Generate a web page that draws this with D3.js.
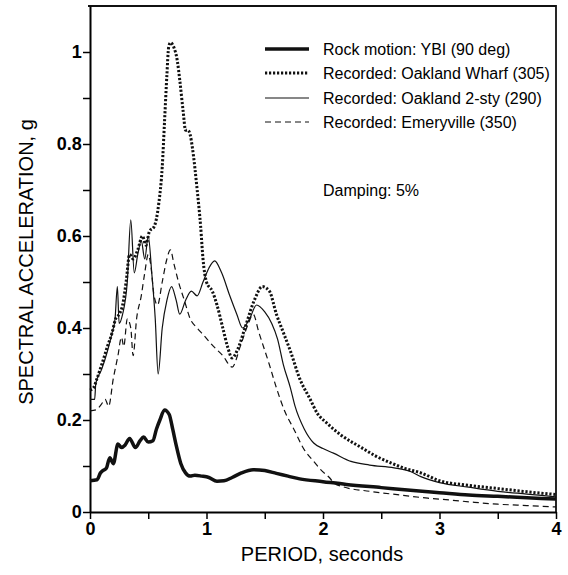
<!DOCTYPE html>
<html>
<head>
<meta charset="utf-8">
<script src="https://cdn.jsdelivr.net/npm/d3@7"></script>
<style>
  body { margin: 0; background: #fff; }
  svg { font-family: "Liberation Sans", Arial, sans-serif; }
</style>
</head>
<body>
<div id="chart"></div>
<script>
// Spectral acceleration (g) vs period (s)
const rock = [[0,0.068],[0.06,0.07],[0.09,0.085],[0.11,0.09],[0.14,0.095],[0.17,0.118],[0.2,0.105],[0.24,0.148],[0.27,0.14],[0.3,0.145],[0.34,0.16],[0.39,0.14],[0.43,0.155],[0.46,0.163],[0.5,0.152],[0.54,0.155],[0.57,0.18],[0.6,0.2],[0.64,0.222],[0.68,0.212],[0.71,0.18],[0.74,0.145],[0.78,0.105],[0.82,0.085],[0.86,0.078],[0.9,0.08],[0.96,0.078],[1.02,0.075],[1.09,0.067],[1.15,0.068],[1.22,0.075],[1.3,0.085],[1.4,0.092],[1.5,0.09],[1.6,0.084],[1.7,0.078],[1.8,0.072],[2.0,0.066],[2.2,0.06],[2.5,0.053],[2.8,0.046],[3.0,0.042],[3.25,0.037],[3.5,0.034],[3.75,0.031],[4.0,0.028]];

const wharf = [[0,0.265],[0.03,0.27],[0.06,0.29],[0.1,0.32],[0.15,0.36],[0.19,0.39],[0.22,0.42],[0.25,0.43],[0.28,0.45],[0.31,0.5],[0.34,0.56],[0.37,0.55],[0.41,0.57],[0.45,0.6],[0.48,0.58],[0.51,0.61],[0.55,0.62],[0.59,0.67],[0.62,0.75],[0.64,0.85],[0.66,0.95],[0.675,1.01],[0.69,1.02],[0.72,1.01],[0.75,0.98],[0.77,0.94],[0.8,0.87],[0.82,0.83],[0.84,0.83],[0.86,0.82],[0.88,0.79],[0.92,0.7],[0.95,0.62],[0.97,0.55],[1.0,0.5],[1.05,0.48],[1.09,0.45],[1.14,0.4],[1.18,0.36],[1.22,0.335],[1.27,0.355],[1.33,0.4],[1.41,0.46],[1.48,0.49],[1.54,0.48],[1.6,0.43],[1.66,0.39],[1.72,0.35],[1.8,0.29],[1.89,0.245],[1.95,0.215],[2.03,0.194],[2.15,0.168],[2.33,0.14],[2.45,0.122],[2.58,0.107],[2.7,0.095],[2.84,0.085],[3.0,0.068],[3.25,0.058],[3.5,0.051],[3.75,0.044],[4.0,0.038]];

const twoSty = [[0,0.245],[0.04,0.245],[0.05,0.28],[0.1,0.31],[0.15,0.35],[0.19,0.39],[0.215,0.42],[0.235,0.49],[0.25,0.41],[0.28,0.43],[0.32,0.5],[0.35,0.635],[0.38,0.52],[0.41,0.56],[0.44,0.59],[0.47,0.55],[0.5,0.6],[0.53,0.52],[0.56,0.42],[0.585,0.3],[0.62,0.4],[0.66,0.46],[0.7,0.49],[0.74,0.46],[0.77,0.43],[0.82,0.46],[0.87,0.48],[0.92,0.47],[0.97,0.5],[1.02,0.53],[1.07,0.546],[1.13,0.52],[1.2,0.47],[1.26,0.43],[1.31,0.4],[1.37,0.42],[1.43,0.45],[1.5,0.435],[1.56,0.41],[1.61,0.376],[1.66,0.32],[1.72,0.27],[1.76,0.23],[1.84,0.18],[1.92,0.15],[2.0,0.138],[2.09,0.128],[2.24,0.11],[2.4,0.102],[2.61,0.096],[2.75,0.088],[2.84,0.077],[3.0,0.064],[3.25,0.054],[3.5,0.045],[3.75,0.039],[4.0,0.033]];

const emeryville = [[0,0.22],[0.05,0.222],[0.1,0.235],[0.13,0.245],[0.16,0.23],[0.2,0.29],[0.24,0.34],[0.27,0.38],[0.29,0.36],[0.32,0.42],[0.35,0.4],[0.37,0.34],[0.4,0.42],[0.44,0.47],[0.47,0.52],[0.5,0.56],[0.52,0.54],[0.55,0.47],[0.58,0.45],[0.62,0.5],[0.66,0.55],[0.69,0.57],[0.72,0.54],[0.76,0.5],[0.81,0.46],[0.86,0.42],[0.92,0.4],[0.97,0.386],[1.06,0.36],[1.14,0.34],[1.22,0.315],[1.29,0.36],[1.36,0.41],[1.4,0.43],[1.45,0.39],[1.54,0.32],[1.6,0.27],[1.67,0.22],[1.75,0.18],[1.84,0.135],[1.92,0.11],[1.98,0.092],[2.05,0.076],[2.1,0.062],[2.17,0.055],[2.4,0.045],[2.66,0.037],[2.9,0.03],[3.09,0.026],[3.3,0.021],[3.5,0.017],[3.75,0.014],[4.0,0.011]];

const seriesNames = ["Rock motion: YBI (90 deg)", "Recorded: Oakland Wharf (305)", "Recorded: Oakland 2-sty (290)", "Recorded: Emeryville (350)"];
const xMajor = [0, 1, 2, 3, 4];
const yMajor = [0, 0.2, 0.4, 0.6, 0.8, 1];

const width = 568;
const height = 575;
const marginTop = 6;
const marginRight = 12;
const marginBottom = 63;
const marginLeft = 90;

const x = d3.scaleLinear().domain([0, 4]).range([marginLeft, width - marginRight]);
const y = d3.scaleLinear().domain([0, 1.1]).range([height - marginBottom, marginTop]);

const svg = d3.select("#chart").append("svg")
    .attr("width", width)
    .attr("height", height)
    .attr("viewBox", [0, 0, width, height]);

// frame (top and right)
svg.append("path")
    .attr("fill", "none")
    .attr("stroke", "#111")
    .attr("stroke-width", 1.8)
    .attr("d", `M${marginLeft - 2},${marginTop}H${width - marginRight}V${height - marginBottom}`);

// x axis with minor ticks every 0.5
svg.append("g")
    .attr("transform", `translate(0,${height - marginBottom})`)
    .call(d3.axisBottom(x).tickValues(d3.range(0, 4.01, 0.5)).tickSize(7).tickSizeOuter(0)
        .tickFormat(d => xMajor.includes(d) ? d3.format("d")(d) : ""))
    .call(g => g.select(".domain").attr("stroke-width", 2))
    .call(g => g.selectAll(".tick line").attr("stroke-width", 1.5))
    .call(g => g.selectAll(".tick text").attr("font-size", 18).attr("font-weight", "bold").attr("dy", "0.72em"));

// y axis with minor ticks every 0.1
svg.append("g")
    .attr("transform", `translate(${marginLeft},0)`)
    .call(d3.axisLeft(y).tickValues(d3.range(0, 1.01, 0.1).map(v => +v.toFixed(1))).tickSize(7).tickSizeOuter(0)
        .tickFormat(d => yMajor.includes(d) ? d3.format("~g")(d) : ""))
    .call(g => g.select(".domain").attr("stroke-width", 2))
    .call(g => g.selectAll(".tick line").attr("stroke-width", 1.5))
    .call(g => g.selectAll(".tick text").attr("font-size", 18).attr("font-weight", "bold").attr("dx", "0.1em"));

// axis titles
svg.append("text")
    .attr("x", 322)
    .attr("y", 561)
    .attr("text-anchor", "middle")
    .attr("font-size", 20)
    .text("PERIOD, seconds");

svg.append("text")
    .attr("transform", "translate(33,262) rotate(-90)")
    .attr("text-anchor", "middle")
    .attr("font-size", 20)
    .text("SPECTRAL ACCELERATION, g");

const styles = [
  {data: rock, width: 3.5, dash: null},
  {data: wharf, width: 3, dash: "2.2,1.8"},
  {data: twoSty, width: 1.2, dash: null},
  {data: emeryville, width: 1.2, dash: "6,4"}
];

const line = d3.line()
    .x(d => x(d[0]))
    .y(d => y(d[1]))
    .curve(d3.curveMonotoneX);

svg.append("g")
    .selectAll("path")
    .data(styles)
    .join("path")
    .attr("fill", "none")
    .attr("stroke", "#111")
    .attr("stroke-width", d => d.width)
    .attr("stroke-dasharray", d => d.dash)
    .attr("stroke-linejoin", "round")
    .attr("d", d => line(d.data));

// legend
const legendY = [49, 73, 98, 122];
const legend = svg.append("g");
styles.forEach((s, i) => {
  legend.append("line")
      .attr("x1", 265).attr("x2", 309)
      .attr("y1", legendY[i]).attr("y2", legendY[i])
      .attr("stroke", "#111")
      .attr("stroke-width", s.width)
      .attr("stroke-dasharray", s.dash);
  legend.append("text")
      .attr("x", 323)
      .attr("y", legendY[i] + 6)
      .attr("font-size", 16)
      .text(seriesNames[i]);
});

svg.append("text")
    .attr("x", 323)
    .attr("y", 196)
    .attr("font-size", 16)
    .text("Damping: 5%");
</script>
</body>
</html>
